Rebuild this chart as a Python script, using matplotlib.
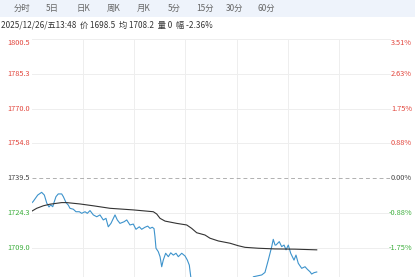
import numpy as np
import matplotlib.pyplot as plt

plt.rcParams['font.family'] = ['Noto Sans CJK SC', 'DejaVu Sans']

# tabs and header
tabs = ['分时', '5日', '日K', '周K', '月K', '5分', '15分', '30分', '60分']
tab_x = [22, 52, 83, 114, 144, 174, 205, 235, 266]
info = '2025/12/26/五13:48  价 1698.5  均 1708.2  量 0  幅 -2.36%'

# price axis
prev_close = 1739.5
price_ticks = [1800.5, 1785.3, 1770.0, 1754.8, 1739.5, 1724.3, 1709.0]
pct_ticks = ['3.51%', '2.63%', '1.75%', '0.88%', '0.00%', '-0.88%', '-1.75%']
total_minutes = 345

# minute price
t_price = [0, 1, 5.5, 9.3, 11.9, 14.2, 16.4, 18, 20, 21.2, 23.1, 25.3, 28.6, 30.2,
           32.8, 35, 36.6, 39.8, 42.4, 45.6, 47.9, 51.1, 53.3, 55.9, 59.1, 62.4,
           65.5, 68.7, 71.3, 73.5, 76.1, 78.4, 80, 82.2, 84.8, 88.7, 91.3, 94.4,
           97.6, 100.2, 103.4, 105.7, 108.9, 111.5, 113.7, 115.9, 117.6, 118.5,
           119.5, 121.7, 123.4, 125, 126.5, 128.8, 131.4, 133.7, 136.2, 138.8,
           141, 144.3, 147.5, 149.7, 151.6, 153, 156, 165, 175, 185, 195, 205,
           212, 213.3, 221.4, 224.5, 227.7, 231, 232.5, 234.2, 235.1, 236.8,
           238.3, 240.6, 242.9, 244.8, 247, 249.3, 252.5, 254.4, 256.6, 259.9,
           263.1, 265.3, 267.9, 269.5, 271.8, 274.4]
price = [1728.9, 1729.3, 1732.2, 1733.4, 1732.2, 1728.7, 1727.0, 1727.9, 1727.1,
         1728.9, 1731.5, 1732.7, 1732.7, 1731.5, 1728.9, 1727.8, 1726.4, 1726.0,
         1724.9, 1724.9, 1724.2, 1724.9, 1724.2, 1725.4, 1723.5, 1722.7, 1723.5,
         1721.3, 1722.0, 1718.3, 1719.8, 1722.0, 1723.5, 1721.3, 1719.8, 1720.5,
         1721.3, 1719.1, 1719.5, 1717.2, 1718.3, 1717.2, 1718.1, 1718.6, 1717.6,
         1718.1, 1717.5, 1714.0, 1708.9, 1707.4, 1705.2, 1700.8, 1703.7, 1706.7,
         1705.2, 1706.9, 1705.9, 1706.7, 1705.2, 1706.7, 1705.5, 1703.7, 1701.5,
         1696.4, 1693.0, 1691.0, 1692.5, 1690.0, 1691.5, 1693.5, 1695.0, 1696.4,
         1697.2, 1698.3, 1703.7, 1709.6, 1712.8, 1710.3, 1710.3, 1711.1, 1711.8,
         1709.6, 1710.3, 1708.2, 1710.3, 1706.7, 1703.7, 1705.9, 1702.3, 1700.1,
         1700.8, 1699.7, 1698.6, 1697.6, 1698.2, 1698.5]

# average price
t_avg = [0, 4.5, 10.9, 17.3, 23.8, 28.6, 33.4, 46.3, 59.1, 75.2, 97.6, 116.9,
         120.2, 123.4, 128.2, 139.4, 149.1, 153.9, 158.7, 166.7, 171.5, 179.5,
         190.8, 198.8, 205.3, 218.1, 234.2, 253.5, 274.4]
avg = [1725.2, 1726.4, 1727.5, 1728.2, 1728.6, 1728.9, 1728.9, 1728.3, 1727.5,
       1726.4, 1725.7, 1724.9, 1723.9, 1722.0, 1720.8, 1719.8, 1719.1, 1717.6,
       1715.7, 1714.7, 1713.3, 1712.1, 1711.1, 1710.0, 1709.3, 1708.9, 1708.6,
       1708.5, 1708.2]

W, H = 415, 277
fig = plt.figure(figsize=(W / 100, H / 100), dpi=100)
fig.patch.set_facecolor('white')

# tab bar
bar = fig.add_axes([0, 1 - 17 / H, 1, 17 / H])
bar.set_facecolor('#eef3fb')
bar.set_xticks([])
bar.set_yticks([])
for s in bar.spines.values():
    s.set_visible(False)
for lbl, x in zip(tabs, tab_x):
    fig.text(x / W, 1 - 8 / H, lbl, ha='center', va='center', fontsize=6, color='#666666')
fig.text(0.5 / W, 1 - 25 / H, info, ha='left', va='center', fontsize=5.9, color='#333333')

# chart
ax = fig.add_axes([32 / W, 0, 358 / W, 1 - 39.2 / H])
ax.set_xlim(0, total_minutes)
ax.set_ylim(1696.3, 1800.5)
for s in ax.spines.values():
    s.set_visible(False)
ax.set_xticks([])
ax.set_yticks([])

for k in range(1, 7):
    ax.axvline(total_minutes * k / 7, color='#eeeeee', lw=0.7, zorder=0)
for p in price_ticks:
    if p == prev_close:
        ax.axhline(p, color='#b0b0b0', lw=0.7, ls=(0, (4, 3)), zorder=0)
    else:
        ax.axhline(p, color='#eeeeee', lw=0.7, zorder=0, clip_on=False)

red, green, grey = '#e2453c', '#3cae3c', '#444444'
tr = ax.get_yaxis_transform()
for i, (p, pc) in enumerate(zip(price_ticks, pct_ticks)):
    c = red if p > prev_close else (green if p < prev_close else grey)
    va = 'top' if i == 0 else 'center'
    ax.text(-25 / 358, p, f'{p:.1f}', transform=tr, ha='left', va=va, fontsize=5.3, color=c)
    ax.text(1 + 22 / 358, p, pc, transform=tr, ha='right', va=va, fontsize=5.3, color=c)

ax.plot(t_price, price, color='#3d93cc', lw=0.8)
ax.plot(t_avg, avg, color='#333333', lw=0.8)

fig.savefig('out.png', dpi=100)
